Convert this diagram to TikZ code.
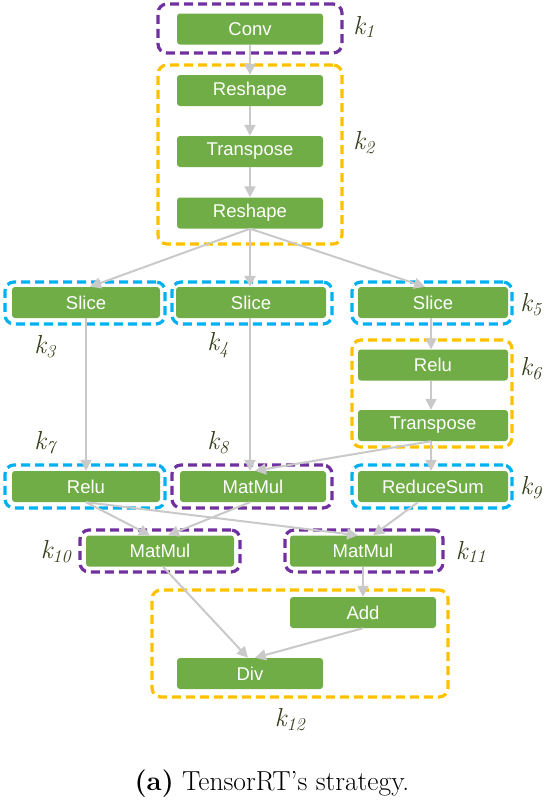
\documentclass[tikz,border=0pt]{standalone}
\usepackage{fontspec}
\newfontfamily\opfont{Liberation Sans}
\usetikzlibrary{arrows.meta}
\definecolor{opgreen}{HTML}{70AD47}
\definecolor{kpurple}{HTML}{7030A0}
\definecolor{kyellow}{HTML}{FFC000}
\definecolor{kcyan}{HTML}{00B0F0}
\definecolor{edgegray}{HTML}{C9C9C9}
\definecolor{klabel}{HTML}{36401C}
\begin{document}
\begin{tikzpicture}[x=1pt,y=-1pt,
  op/.style={fill=opgreen, rounded corners=3pt, minimum width=146pt, minimum height=31pt, inner sep=0pt, text=white, font=\opfont\fontsize{18.5}{20}\selectfont},
  grp/.style={draw=#1, line width=3.2pt, dash pattern=on 9pt off 5pt, rounded corners=9pt, inner sep=0pt},
  klab/.style={text=klabel, font=\fontsize{26}{28}\selectfont\itshape, inner sep=0pt},
  edge/.style={draw=edgegray, line width=2pt, -{Triangle[length=11pt,width=11pt]}},
]
\useasboundingbox (0,0) rectangle (549,804);
% groups
\node[grp=kpurple, minimum width=184pt, minimum height=49pt] (g1) at (250,28.5) {};
\node[grp=kyellow, minimum width=184pt, minimum height=179pt] (g2) at (250,154.5) {};
\node[grp=kcyan, minimum width=160pt, minimum height=42pt] (g3) at (85,303) {};
\node[grp=kcyan, minimum width=160pt, minimum height=42pt] (g4) at (252,303) {};
\node[grp=kcyan, minimum width=160pt, minimum height=42pt] (g5) at (432,303) {};
\node[grp=kyellow, minimum width=160pt, minimum height=107pt] (g6) at (432,393.5) {};
\node[grp=kcyan, minimum width=160pt, minimum height=43pt] (g7) at (85,486.5) {};
\node[grp=kpurple, minimum width=160pt, minimum height=43pt] (g8) at (252,486.5) {};
\node[grp=kcyan, minimum width=160pt, minimum height=43pt] (g9) at (432,486.5) {};
\node[grp=kpurple, minimum width=160pt, minimum height=42pt] (g10) at (160,551) {};
\node[grp=kpurple, minimum width=158pt, minimum height=42pt] (g11) at (364,551) {};
\node[grp=kyellow, minimum width=296pt, minimum height=107pt] (g12) at (300,643.5) {};
% ops
\node[op] (conv) at (250,29) {Conv};
\node[op] (rs1) at (250,90.5) {Reshape};
\node[op] (tr1) at (250,151.5) {Transpose};
\node[op] (rs2) at (250,213) {Reshape};
\node[op, minimum width=148pt] (sl1) at (86,302.5) {Slice};
\node[op, minimum width=150pt] (sl2) at (251,302.5) {Slice};
\node[op, minimum width=150pt] (sl3) at (433,302.5) {Slice};
\node[op, minimum width=150pt] (re6) at (433,365) {Relu};
\node[op, minimum width=150pt] (tr2) at (433,425.5) {Transpose};
\node[op, minimum width=148pt] (re7) at (86,486.5) {Relu};
\node[op] (mm8) at (253,486.5) {MatMul};
\node[op, minimum width=150pt] (rsum) at (433,486.5) {ReduceSum};
\node[op, minimum width=148pt] (mm10) at (160,551) {MatMul};
\node[op] (mm11) at (363,551) {MatMul};
\node[op] (add) at (363,612.5) {Add};
\node[op] (div) at (250,673.5) {Div};
% labels
\node[klab] (k1) at (364,27) {k\textsubscript{1}};
\node[klab] (k2) at (364,143) {k\textsubscript{2}};
\node[klab] (k3) at (45,347) {k\textsubscript{3}};
\node[klab] (k4) at (218,345) {k\textsubscript{4}};
\node[klab] (k5) at (531,305) {k\textsubscript{5}};
\node[klab] (k6) at (531,369) {k\textsubscript{6}};
\node[klab] (k7) at (45,443) {k\textsubscript{7}};
\node[klab] (k8) at (218,443) {k\textsubscript{8}};
\node[klab] (k9) at (531,488) {k\textsubscript{9}};
\node[klab] (k10) at (56,552) {k\textsubscript{10}};
\node[klab] (k11) at (471,552) {k\textsubscript{11}};
\node[klab] (k12) at (290,720) {k\textsubscript{12}};
\node[font=\fontsize{27.5}{30}\selectfont, inner sep=0pt, anchor=base] (cap) at (272,790) {\textbf{(a)} TensorRT’s strategy.};
% edges
\draw[edge] (conv.south) -- (rs1.north);
\draw[edge] (rs1.south) -- (tr1.north);
\draw[edge] (tr1.south) -- (rs2.north);
\draw[edge] (rs2.south) -- ([xshift=4pt]sl1.north);
\draw[edge] (rs2.south) -- ([xshift=-1pt]sl2.north);
\draw[edge] (rs2.south) -- ([xshift=-8pt]sl3.north);
\draw[edge] ([xshift=0pt]sl1.south) -- ([xshift=0pt]re7.north);
\draw[edge] ([xshift=-1pt]sl2.south) -- ([xshift=-3pt]mm8.north);
\draw[edge] ([xshift=-2pt]sl3.south) -- ([xshift=-2pt]re6.north);
\draw[edge] ([xshift=-2pt]re6.south) -- ([xshift=-2pt]tr2.north);
\draw[edge] ([xshift=-2pt]tr2.south) -- ([xshift=-2pt]rsum.north);
\draw[edge] ([xshift=-2pt]tr2.south) -- ([xshift=2pt]mm8.north);
\draw[edge] (re7.south) -- ([xshift=-10pt]mm10.north);
\draw[edge] ([xshift=-3pt]mm8.south) -- ([xshift=8pt]mm10.north);
\draw[edge] (re7.south) -- ([xshift=-5pt]mm11.north);
\draw[edge] ([xshift=-15pt]rsum.south) -- ([xshift=10pt]mm11.north);
\draw[edge] (mm11.south) -- (add.north);
\draw[edge] ([xshift=3pt]mm10.south) -- ([xshift=-2pt]div.north);
\draw[edge] (add.south) -- ([xshift=5pt]div.north);
\end{tikzpicture}
\end{document}
